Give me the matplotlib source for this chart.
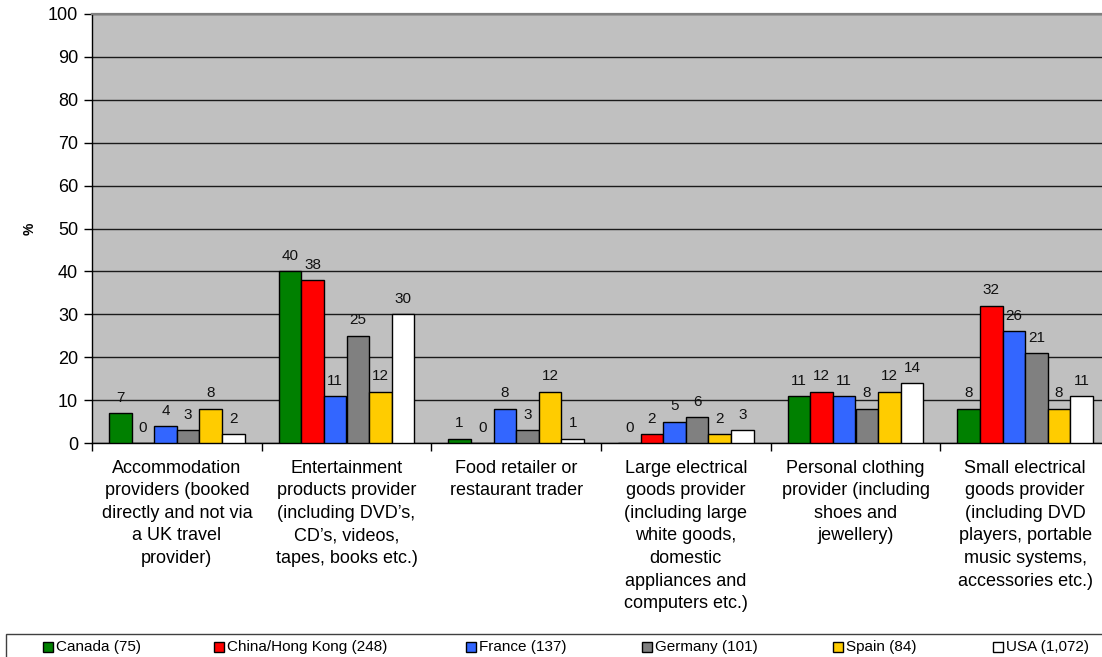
import matplotlib
matplotlib.use("Agg")
import matplotlib.pyplot as plt
from matplotlib.patches import Rectangle

plt.rcParams['font.family'] = ['Liberation Sans', 'DejaVu Sans']

# ---------------------------------------------------------------------------
# Data
# ---------------------------------------------------------------------------
categories = [
    "Accommodation\nproviders (booked\ndirectly and not via\na UK travel\nprovider)",
    "Entertainment\nproducts provider\n(including DVD\u2019s,\nCD\u2019s, videos,\ntapes, books etc.)",
    "Food retailer or\nrestaurant trader",
    "Large electrical\ngoods provider\n(including large\nwhite goods,\ndomestic\nappliances and\ncomputers etc.)",
    "Personal clothing\nprovider (including\nshoes and\njewellery)",
    "Small electrical\ngoods provider\n(including DVD\nplayers, portable\nmusic systems,\naccessories etc.)",
]
series_names = ["Canada (75)", "China/Hong Kong (248)", "France (137)",
                "Germany (101)", "Spain (84)", "USA (1,072)"]
canada = [7, 40, 1, 0, 11, 8]
china = [0, 38, 0, 2, 12, 32]
france = [4, 11, 8, 5, 11, 26]
germany = [3, 25, 3, 6, 8, 21]
spain = [8, 12, 12, 2, 12, 8]
usa = [2, 30, 1, 3, 14, 11]
series = [canada, china, france, germany, spain, usa]
colors = ["#008000", "#FF0000", "#3366FF", "#808080", "#FFCC00", "#FFFFFF"]

# ---------------------------------------------------------------------------
# Figure
# ---------------------------------------------------------------------------
W, H = 1102, 657
fig = plt.figure(figsize=(W / 100, H / 100), dpi=100)
fig.patch.set_facecolor("white")
ax = fig.add_axes([92 / W, (H - 443) / H, (1110 - 92) / W, (443 - 14) / H])
ax.set_facecolor("#C0C0C0")

n = len(series)
group = 0.8
bw = group / n
for k, (vals, col) in enumerate(zip(series, colors)):
    xs = [i + (1 - group) / 2 + bw * (k + 0.5) for i in range(len(categories))]
    ax.bar(xs, vals, width=bw, color=col, edgecolor="black", linewidth=1.0, zorder=3)
    for x, v in zip(xs, vals):
        ax.annotate(str(v), (x, v), xytext=(0, 11), textcoords="offset points",
                    ha="center", va="center", fontsize=11, color="#111111", zorder=4)

ax.set_xlim(0, len(categories))
ax.set_ylim(0, 100)
ax.set_yticks(range(0, 101, 10))
ax.yaxis.grid(True, color="#1a1a1a", linewidth=1.0, zorder=1)
ax.set_axisbelow(True)
ax.tick_params(axis="y", length=6, width=1, labelsize=13, pad=4, color="black")

ax.set_xticks([i + 0.5 for i in range(len(categories))])
ax.set_xticklabels(categories, fontsize=13, linespacing=1.43, va="top")
ax.tick_params(axis="x", which="major", length=0, pad=12)
ax.set_xticks(range(len(categories) + 1), minor=True)
ax.tick_params(axis="x", which="minor", length=6, width=1, color="black")

ax.set_ylabel("%", fontsize=10, fontweight="bold", rotation=90, va="center")
ax.yaxis.set_label_coords((30 - 92) / (1110 - 92), 0.5)

for s in ["left", "bottom"]:
    ax.spines[s].set_color("black")
    ax.spines[s].set_linewidth(1.0)
ax.spines["top"].set_color("#808080")
ax.spines["top"].set_linewidth(1.6)
ax.spines["right"].set_visible(False)

# ---------------------------------------------------------------------------
# Legend box along the bottom
# ---------------------------------------------------------------------------
fig.patches.append(Rectangle((6 / W, -0.02), 1.1, (H - 634) / H + 0.02,
                             transform=fig.transFigure, facecolor="white",
                             edgecolor="#404040", linewidth=1.0))
marker_x = [43, 214, 466, 642, 833, 993]
ly = (H - 647) / H
for mx, name, col in zip(marker_x, series_names, colors):
    fig.patches.append(Rectangle((mx / W, (H - 652) / H), 10 / W, 10 / H,
                                 transform=fig.transFigure, facecolor=col,
                                 edgecolor="black", linewidth=1.0))
    fig.text((mx + 13) / W, ly, name, fontsize=11, ha="left", va="center")

fig.savefig("out.png", dpi=100)
